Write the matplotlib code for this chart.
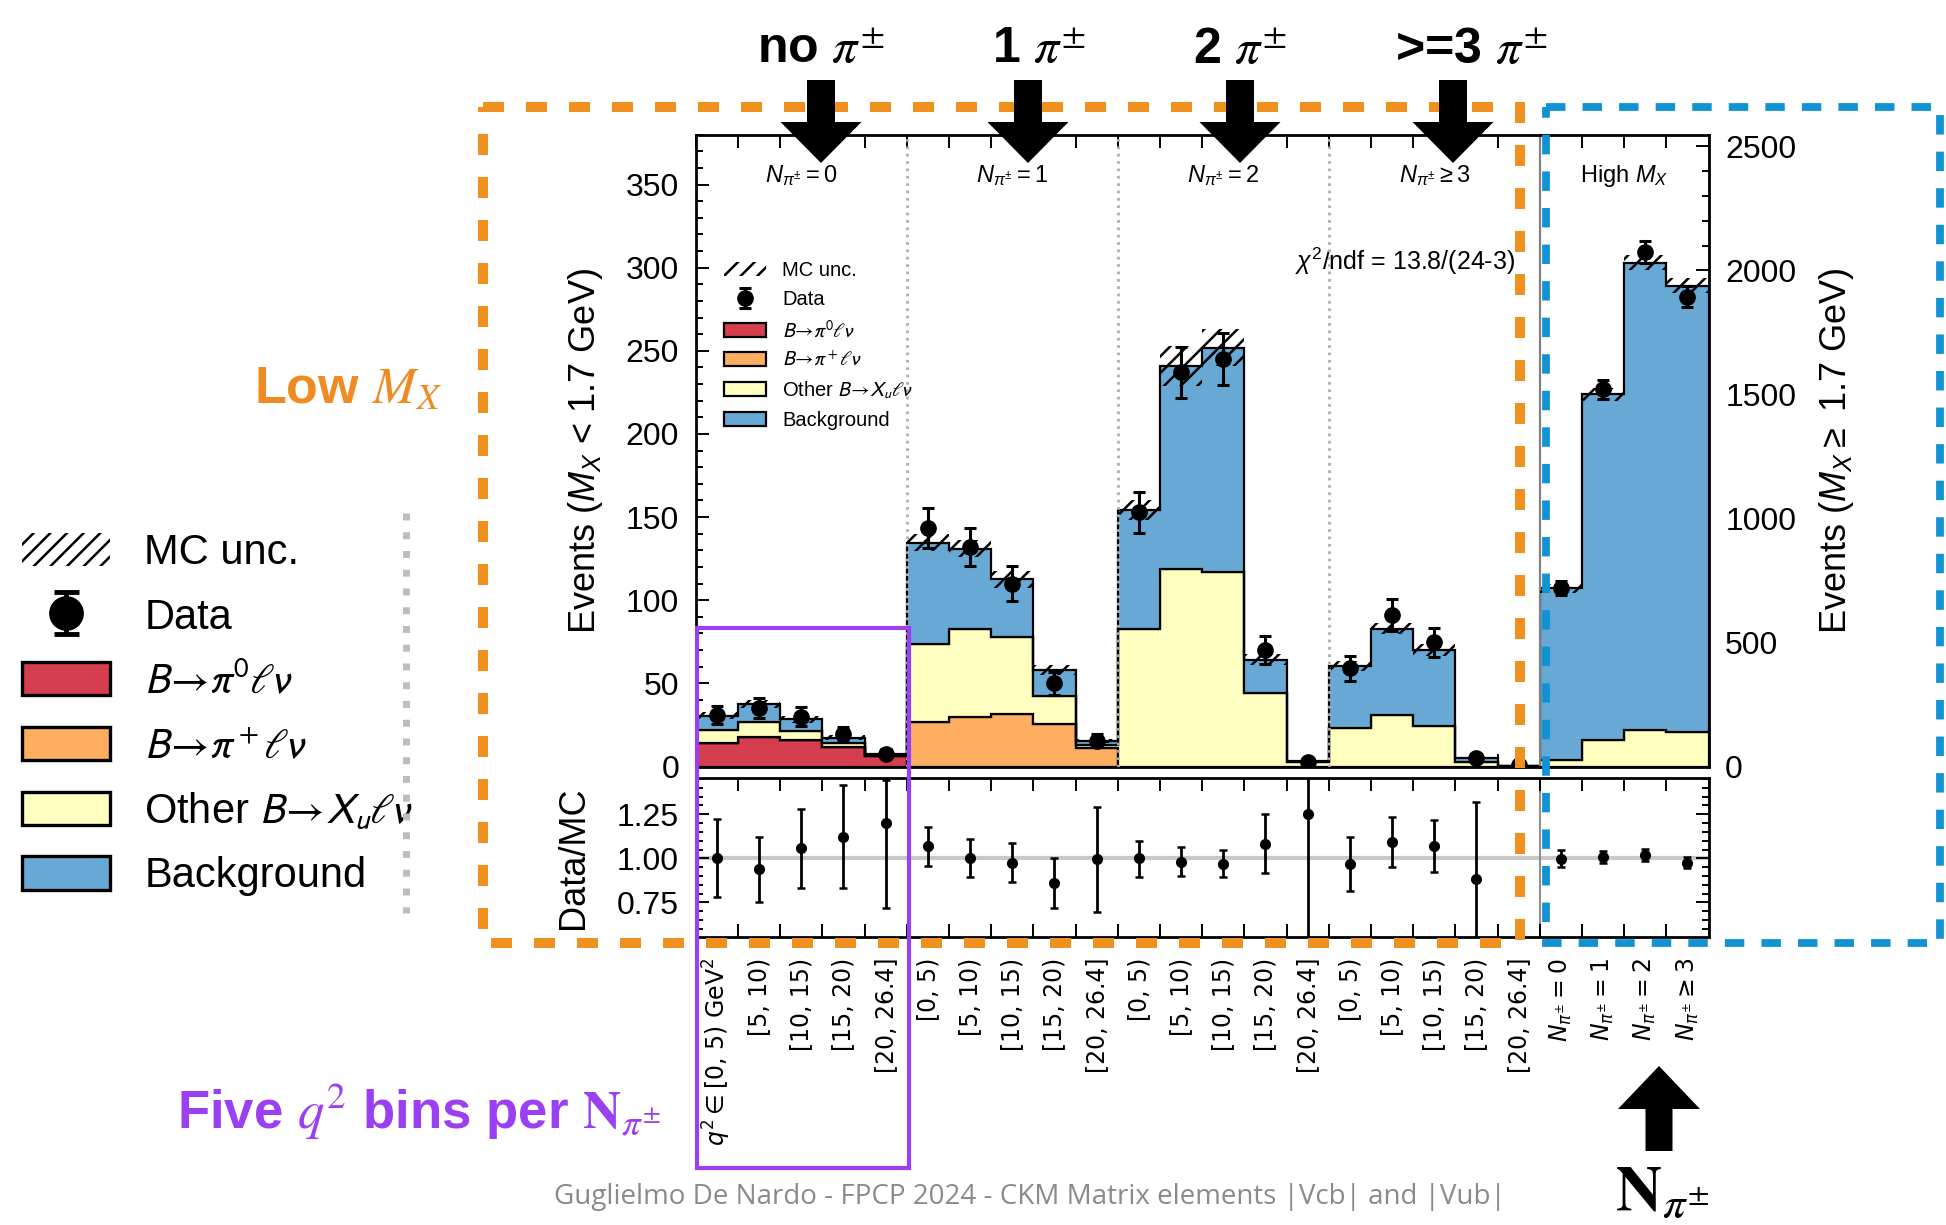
import numpy as np
import matplotlib
matplotlib.use("Agg")
import matplotlib.pyplot as plt
import matplotlib.transforms as mtransforms
from matplotlib import font_manager
from matplotlib.patches import Patch, Rectangle, FancyArrow
from matplotlib.lines import Line2D
from matplotlib.ticker import MultipleLocator

# ------------------------------------------------------------------ data
group_titles = [r"$N_{\pi^{\pm}} = 0$", r"$N_{\pi^{\pm}} = 1$",
                r"$N_{\pi^{\pm}} = 2$", r"$N_{\pi^{\pm}} \geq 3$"]
q2_bins = ["[0, 5)", "[5, 10)", "[10, 15)", "[15, 20)", "[20, 26.4]"]
first_q2_label = r"$q^2 \in$[0, 5) GeV$^2$"
high_labels = [r"$N_{\pi^{\pm}} = 0$", r"$N_{\pi^{\pm}} = 1$",
               r"$N_{\pi^{\pm}} = 2$", r"$N_{\pi^{\pm}} \geq 3$"]

# low M_X : 20 bins (4 pion multiplicities x 5 q2 bins)
pi0_low = [14, 18, 16, 11.5, 6.5, 0, 0, 0, 0, 0, 0, 0, 0, 0, 0, 0, 0, 0, 0, 0]
pip_low = [0, 0, 0, 0, 0, 26.6, 30, 31.8, 25.3, 11, 0, 0, 0, 0, 0, 0, 0, 0, 0, 0]
other_low = [8, 9, 5.4, 2.5, 0.5, 46.8, 53, 46.1, 17.4, 1.8,
             83, 119, 117, 44, 2.6, 23.4, 31, 24.5, 3, 0.3]
bkg_low = [8.5, 10.5, 7, 3.4, 0.5, 61.2, 48, 34.6, 15.1, 2.6,
           71, 122, 135, 20.3, 0.5, 37, 52, 45.5, 2, 0.3]
mcunc_low = [2, 2.5, 2, 1.3, 0.8, 5, 5, 5, 3, 1.2, 6, 12, 11, 3.5, 0.5, 3, 3.5, 3.5, 0.6, 0.2]
data_low = [31, 35, 30, 19.5, 7.8, 143.7, 132, 110, 50, 15.4,
            153, 237, 245, 70, 3, 59, 91, 74.7, 5.2, 1]
data_err_low = [5.5, 6, 5.5, 4.4, 2.8, 12, 11.5, 10.5, 7, 3.9,
                12.4, 15.4, 15.7, 8.4, 1.7, 7.7, 9.5, 8.6, 2.3, 1.0]

# high M_X : 4 bins
other_high = [26, 105, 149, 140]
bkg_high = [693, 1395, 1882, 1798]
mcunc_high = [18, 25, 30, 30]
data_high = [719, 1521, 2075, 1894]
data_err_high = [27, 39, 45, 43]

# Data / MC ratio (24 bins), with lower / upper ends of error bars
ratio = [1.00, 0.937, 1.057, 1.123, 1.199, 1.07, 1.004, 0.975, 0.858, 0.996,
         1.00, 0.981, 0.968, 1.082, 1.252, 0.968, 1.091, 1.072, 0.882, np.nan,
         0.996, 1.01, 1.019, 0.972]
ratio_lo = [0.782, 0.753, 0.833, 0.833, 0.719, 0.958, 0.896, 0.867, 0.719, 0.696,
            0.896, 0.899, 0.892, 0.915, 0.0, 0.816, 0.949, 0.924, 0.40, np.nan,
            0.949, 0.972, 0.987, 0.943]
ratio_hi = [1.222, 1.12, 1.279, 1.418, 1.442, 1.18, 1.112, 1.089, 1.004, 1.29,
            1.10, 1.063, 1.047, 1.25, 2.5, 1.12, 1.232, 1.218, 1.319, np.nan,
            1.047, 1.044, 1.051, 1.006]

# ------------------------------------------------------------------ style
plt.rcParams["font.family"] = ["Liberation Sans", "DejaVu Sans"]
plt.rcParams["mathtext.fontset"] = "custom"
plt.rcParams["mathtext.rm"] = "Liberation Sans"
plt.rcParams["mathtext.it"] = "Liberation Sans:italic"
plt.rcParams["mathtext.bf"] = "Liberation Sans:bold"
plt.rcParams["hatch.linewidth"] = 1.8

_names = {f.name for f in font_manager.fontManager.ttflist}
HEAD_FONT = "Liberation Sans Narrow" if "Liberation Sans Narrow" in _names else "Liberation Sans"
HEAD_SIZE = 40 if HEAD_FONT == "Liberation Sans Narrow" else 36

C_RED = "#d53e4f"
C_ORA = "#fdae61"
C_YEL = "#ffffbf"
C_BLU = "#67a9d4"

W, H = 1946, 1225
fig = plt.figure(figsize=(W / 100, H / 100), dpi=100)

L_px, main_w, high_w = 695.7, 844.0, 168.8
top_px, main_bot = 134.7, 766.5
r_top, r_bot = 778.0, 937.0

ax = fig.add_axes([L_px / W, 1 - main_bot / H, main_w / W, (main_bot - top_px) / H])
axh = fig.add_axes([(L_px + main_w) / W, 1 - main_bot / H, high_w / W, (main_bot - top_px) / H])
axr = fig.add_axes([L_px / W, 1 - r_bot / H, (main_w + high_w) / W, (r_bot - r_top) / H])

TICK_L, TICK_S, TICK_W = 9.4, 4.7, 1.4


def draw_stack(a, comps, unc, data, derr, ms):
    n = len(data)
    edges = np.arange(n + 1)
    centers = edges[:-1] + 0.5
    bottom = np.zeros(n)
    for vals, col in comps:
        top = bottom + np.asarray(vals, float)
        a.stairs(top, edges, baseline=bottom, fill=True, facecolor=col,
                 edgecolor="black", lw=1.6, zorder=2)
        bottom = top
    unc = np.asarray(unc, float)
    a.stairs(bottom + unc, edges, baseline=bottom - unc, fill=True,
             facecolor="none", edgecolor="black", hatch="//", lw=0, zorder=3)
    eb = a.errorbar(centers, data, yerr=derr, fmt="o", color="black", ms=ms,
                    capsize=4, elinewidth=2.2, capthick=2.2, zorder=5)
    return edges, eb


edges_low, eb_main = draw_stack(ax, [(pi0_low, C_RED), (pip_low, C_ORA),
                                     (other_low, C_YEL), (bkg_low, C_BLU)],
                                mcunc_low, data_low, data_err_low, 11)
edges_high, _ = draw_stack(axh, [(other_high, C_YEL), (bkg_high, C_BLU)],
                           mcunc_high, data_high, data_err_high, 11)

# main panel
ax.set_xlim(0, len(data_low))
ax.set_ylim(0, 380)
for xb in (5, 10, 15):
    ax.axvline(xb, color="#b0b0b0", ls=":", lw=2, zorder=4)
ax.set_xticks(edges_low)
ax.xaxis.set_ticklabels([])
ax.yaxis.set_major_locator(MultipleLocator(50))
ax.yaxis.set_minor_locator(MultipleLocator(10))
ax.tick_params(axis="both", which="both", direction="in", top=True, bottom=True,
               left=True, right=False, labelbottom=False, width=TICK_W)
ax.tick_params(which="major", length=TICK_L, labelsize=23, pad=12)
ax.tick_params(which="minor", length=TICK_S)
ax.spines["right"].set_visible(False)
for s in ("left", "top", "bottom"):
    ax.spines[s].set_linewidth(2.0)
ax.set_ylabel(r"Events ($M_X$ < 1.7 GeV)", fontsize=26)
ax.yaxis.set_label_coords(-0.107, 0.5)

tr = mtransforms.blended_transform_factory(ax.transData, ax.transAxes)
for i, t in enumerate(group_titles):
    ax.text(2.5 + 5 * i, 0.935, t, transform=tr, ha="center", va="center", fontsize=17)
ax.text(0.971, 0.80, r"$\chi^2$/ndf = 13.8/(24-3)", transform=ax.transAxes,
        ha="right", va="center", fontsize=18)

# legend in main panel
h_unc = Patch(facecolor="none", edgecolor="black", hatch="//", lw=0)
h_red = Patch(facecolor=C_RED, edgecolor="black", lw=1.6)
h_ora = Patch(facecolor=C_ORA, edgecolor="black", lw=1.6)
h_yel = Patch(facecolor=C_YEL, edgecolor="black", lw=1.6)
h_blu = Patch(facecolor=C_BLU, edgecolor="black", lw=1.6)
leg_labels = ["MC unc.", "Data", r"$B\!\rightarrow\!\pi^0\ell\nu$",
              r"$B\!\rightarrow\!\pi^+\ell\nu$", r"Other $B\!\rightarrow\!X_u\ell\nu$",
              "Background"]
leg_in = ax.legend([h_unc, eb_main, h_red, h_ora, h_yel, h_blu], leg_labels,
                   loc="upper left", bbox_to_anchor=(0.033, 0.800), frameon=False,
                   fontsize=14.5, handlelength=2.1, handletextpad=0.8, labelspacing=0.5,
                   borderpad=0, borderaxespad=0)
for t in leg_in.get_texts():
    t.set_math_fontfamily("stixsans")

# high M_X panel
axh.set_xlim(0, len(data_high))
axh.set_ylim(0, 2547)
axh.set_xticks(edges_high)
axh.xaxis.set_ticklabels([])
axh.yaxis.tick_right()
axh.yaxis.set_major_locator(MultipleLocator(500))
axh.yaxis.set_minor_locator(MultipleLocator(100))
axh.tick_params(axis="both", which="both", direction="in", top=True, bottom=True,
                left=False, right=True, labelleft=False, labelright=True,
                labelbottom=False, width=TICK_W)
axh.tick_params(which="major", length=TICK_L, labelsize=23, pad=12)
axh.tick_params(which="minor", length=TICK_S)
axh.spines["left"].set_color("#808080")
axh.spines["left"].set_linewidth(1.6)
for s in ("right", "top", "bottom"):
    axh.spines[s].set_linewidth(2.0)
axh.yaxis.set_label_position("right")
axh.set_ylabel(r"Events ($M_X \geq$ 1.7 GeV)", fontsize=26, rotation=90)
axh.yaxis.set_label_coords(1.64, 0.5)
axh.text(0.5, 0.935, r"High $M_X$", transform=axh.transAxes, ha="center",
         va="center", fontsize=17)

# ratio panel
nall = len(ratio)
centers_all = np.arange(nall) + 0.5
r = np.asarray(ratio, float)
rlo = np.asarray(ratio_lo, float)
rhi = np.asarray(ratio_hi, float)
axr.axhline(1.0, color="#c8c8c8", lw=3, zorder=0)
axr.axvline(len(data_low), color="#909090", lw=1.5, zorder=1)
axr.errorbar(centers_all, r, yerr=[r - rlo, rhi - r], fmt="o", color="black", ms=7,
             capsize=3, elinewidth=2.0, capthick=1.8, zorder=5)
axr.set_xlim(0, nall)
axr.set_ylim(0.554, 1.456)
axr.set_yticks([0.75, 1.0, 1.25])
axr.yaxis.set_minor_locator(MultipleLocator(0.05))
axr.set_xticks(np.arange(nall + 1))
axr.xaxis.set_ticklabels([])
xlabels = ([first_q2_label] + q2_bins[1:]) + q2_bins * 3 + high_labels
axr.set_xticks(centers_all, xlabels, minor=True)
axr.tick_params(axis="both", which="both", direction="in", top=True, bottom=True,
                left=True, right=True, width=TICK_W)
axr.tick_params(axis="x", which="major", length=TICK_L, labelbottom=False)
axr.tick_params(axis="x", which="minor", length=0, pad=15, labelrotation=90,
                labelsize=17)
axr.tick_params(axis="y", which="major", length=TICK_L, labelsize=23, pad=12)
axr.tick_params(axis="y", which="minor", length=TICK_S)
for lab in axr.get_xticklabels(minor=True):
    lab.set_fontfamily(["DejaVu Sans"])
    lab.set_math_fontfamily("dejavusans")
for s in axr.spines.values():
    s.set_linewidth(2.0)
axr.set_yticklabels(["0.75", "1.00", "1.25"])
axr.set_ylabel("Data/MC", fontsize=26)
axr.yaxis.set_label_coords(-0.1034, 0.5)

# ------------------------------------------------------------------ overlay annotations
ov = fig.add_axes([0, 0, 1, 1], zorder=10)
ov.set_xlim(0, W)
ov.set_ylim(H, 0)
ov.axis("off")
ov.patch.set_alpha(0)

ov.add_patch(Rectangle((483, 107), 1037, 836, fill=False, edgecolor="#F0901F",
                       lw=7.2, linestyle=(0, (2.1, 2.2))))
ov.add_patch(Rectangle((1546, 107), 394, 836, fill=False, edgecolor="#1193D3",
                       lw=5.6, linestyle=(0, (2.5, 2.2))))
ov.add_patch(Rectangle((697, 628), 212, 540, fill=False, edgecolor="#9B40F0", lw=3))
ov.add_line(Line2D([406, 406], [513, 913], color="#bdbdbd", lw=5,
                   linestyle=(0, (1, 1.7))))

for xa in (821, 1028, 1240, 1453):
    ov.add_patch(FancyArrow(xa, 80, 0, 83, width=28, head_width=81, head_length=41,
                            length_includes_head=True, fc="black", ec="black", lw=0))
ov.add_patch(FancyArrow(1659, 1151, 0, -85, width=27, head_width=82, head_length=43,
                        length_includes_head=True, fc="black", ec="black", lw=0))

for xt, t in zip((821, 1039, 1240, 1471),
                 (r"no $\pi^{\pm}$", r"1 $\pi^{\pm}$", r"2 $\pi^{\pm}$", r">=3 $\pi^{\pm}$")):
    ov.text(xt, 63, t, ha="center", va="baseline", fontsize=HEAD_SIZE,
            fontweight="bold", family=HEAD_FONT, math_fontfamily="stix")

ov.text(254, 403, r"Low $M_X$", ha="left", va="baseline", fontsize=37.5,
        fontweight="bold", color="#EE8B22", math_fontfamily="stix")
ov.text(177, 1129, r"Five $q^2$ bins per $\mathbf{N}_{\pi^{\pm}}$", ha="left",
        va="baseline", fontsize=38, fontweight="bold", color="#9A3FF2",
        math_fontfamily="stix")
ov.text(1662, 1210, r"$\mathbf{N}_{\pi^{\pm}}$", ha="center", va="baseline",
        fontsize=46, math_fontfamily="stix")
ov.text(1030, 1204, "Guglielmo De Nardo - FPCP 2024 - CKM Matrix elements |Vcb| and |Vub|",
        ha="center", va="baseline", fontsize=20, color="#8a8a8a", family="Open Sans")

# big legend on the left
big_eb = ov.errorbar([-500], [-500], yerr=[10], fmt="o", color="black", ms=24,
                     capsize=9, elinewidth=3.5, capthick=3.5)
b_unc = Patch(facecolor="none", edgecolor="black", hatch="//", lw=0)
b_red = Patch(facecolor=C_RED, edgecolor="black", lw=2.4)
b_ora = Patch(facecolor=C_ORA, edgecolor="black", lw=2.4)
b_yel = Patch(facecolor=C_YEL, edgecolor="black", lw=2.4)
b_blu = Patch(facecolor=C_BLU, edgecolor="black", lw=2.4)
leg_big = fig.legend([b_unc, big_eb, b_red, b_ora, b_yel, b_blu], leg_labels,
                     loc="upper left", bbox_to_anchor=(22 / W, 1 - 533 / H), frameon=False,
                     fontsize=30, handlelength=2.1, handleheight=0.85, handletextpad=0.84,
                     labelspacing=0.59, borderpad=0, borderaxespad=0)
for t in leg_big.get_texts():
    t.set_math_fontfamily("stixsans")

fig.savefig("out.png", dpi=100)
